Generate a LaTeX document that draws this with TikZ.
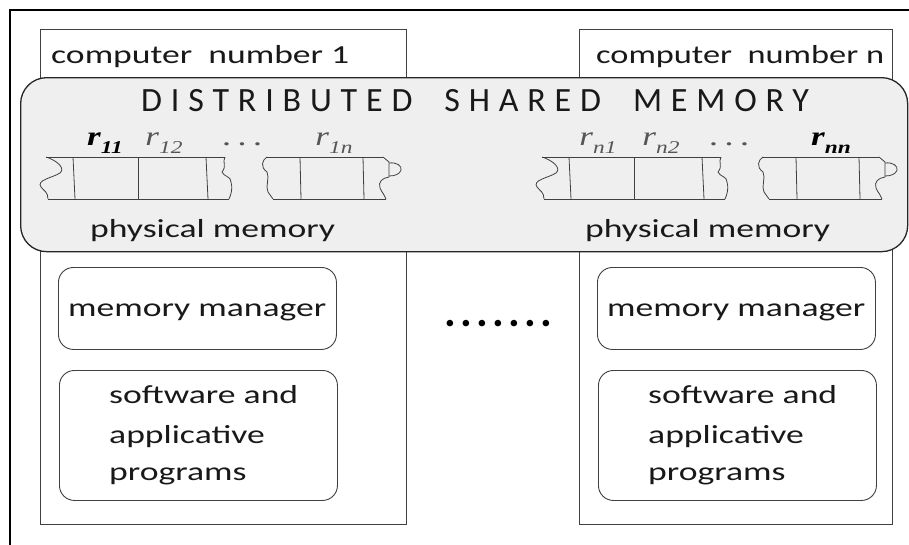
\documentclass[tikz,border=0pt]{standalone}
\usepackage{fontspec}
\setmainfont{Carlito}
\newfontfamily\serifr{Liberation Serif}
\definecolor{dsmfill}{HTML}{EFEFEF}
\definecolor{lbl}{HTML}{555555}
\definecolor{edge}{HTML}{404040}
\newcommand\wide[1]{\scalebox{1.37}[1]{#1}}
\newcommand\regl[1]{\scalebox{1.3}[1]{r\raisebox{-0.3em}{\fontsize{18}{18}\selectfont #1}}}
\newcommand\memstrips{%
  % strip a
  \draw[strip] (46,157) -- (225,157);
  \draw[strip] (48,199) -- (229,199);
  \draw[strip] (46,157) .. controls (56,160) and (66,168) .. (60,173) .. controls (52,178) and (36,180) .. (41,187) .. controls (44,191) and (48,192) .. (48,199);
  \draw[strip] (225,157) .. controls (222,162) and (227,166) .. (222,172) .. controls (224,177) and (231,176) .. (231,182) .. controls (233,188) and (231,195) .. (229,199);
  \draw[strip] (73,157) -- (75,199);
  \draw[strip] (138,157) -- (138,199);
  \draw[strip] (206,157) -- (208,199);
  % strip b
  \draw[strip] (267,157) -- (383,157);
  \draw[strip] (273,199) -- (386,199);
  \draw[strip] (267,157) .. controls (262,160) and (260,167) .. (267,172) .. controls (270,178) and (265,186) .. (268,192) -- (273,199);
  \draw[strip] (300,157) -- (301,199);
  \draw[strip] (363,157) -- (364,199);
  \draw[strip] (383,157) -- (389,162) -- (389,177);
  \draw[strip] (389,163) .. controls (397,162) and (402,166) .. (401,170) .. controls (400,174) and (395,176) .. (389,176);
  \draw[strip] (389,177) .. controls (382,178) and (378,182) .. (380,188) .. controls (382,193) and (385,195) .. (386,199);
}
\tikzset{
  comp/.style={draw=edge, line width=0.9pt, fill=white, inner sep=0pt, anchor=north west},
  dsmbox/.style={draw=black!85, line width=1.3pt, fill=dsmfill, rounded corners=26pt, inner sep=0pt, anchor=north west},
  inbox/.style={draw=edge, line width=0.9pt, rounded corners=15pt, inner sep=0pt, anchor=north west},
  txt/.style={inner sep=0pt, anchor=base west, text=black!90, font=\fontsize{26}{30}\selectfont},
  reg/.style={inner sep=0pt, anchor=base, font=\serifr\itshape\fontsize{27}{30}\selectfont, text=lbl},
  regb/.style={reg, text=black, font=\serifr\itshape\bfseries\fontsize{27}{30}\selectfont},
  strip/.style={draw=edge, line width=0.8pt},
}
\begin{document}
\begin{tikzpicture}[x=1pt,y=-1pt]
\clip (0,0) rectangle (909,544);
\fill[white] (0,0) rectangle (909,544);
\draw[line width=2pt] (10,560) -- (10,10) -- (920,10);
% computers
\node[comp, minimum width=366pt, minimum height=495pt] (c1) at (40,29) {};
\node[comp, minimum width=313pt, minimum height=495pt] (cn) at (579,29) {};
\node[txt] (h1) at (51,63) {\wide{computer\ \ number 1}};
\node[txt] (hn) at (596,63) {\scalebox{1.32}[1]{computer\ \ number n}};
% shared memory
\node[dsmbox, minimum width=887pt, minimum height=174pt] (dsm) at (20,77) {};
\node[inner sep=0pt, anchor=base west, text=black!90, font=\fontsize{34}{38}\selectfont\addfontfeature{LetterSpace=26}] (title) at (141,111.5) {DISTRIBUTED\hspace{32pt}SHARED\hspace{32pt}MEMORY};
\memstrips
\begin{scope}[xshift=496pt]
\memstrips
\end{scope}
\node[regb] (r11) at (105,145) {\regl{11}};
\node[reg] (r12) at (164,145) {\regl{12}};
\node[reg] (d1) at (243,145) {\wide{.\,.\,.}};
\node[reg] (r1n) at (334,145) {\regl{1n}};
\node[reg] (rn1) at (598,145) {\regl{n1}};
\node[reg] (rn2) at (661,145) {\regl{n2}};
\node[reg] (dn) at (730,145) {\wide{.\,.\,.}};
\node[regb] (rnn) at (831,145) {\regl{nn}};
\node[txt] (pm1) at (90,237) {\wide{physical memory}};
\node[txt] (pmn) at (585,237) {\wide{physical memory}};
% memory managers
\node[inbox, minimum width=278pt, minimum height=82pt] (mm1) at (58,267) {};
\node[inbox, minimum width=278pt, minimum height=82pt] (mmn) at (597,267) {};
\node[txt] (mm1t) at (68,316) {\wide{memory manager}};
\node[txt] (mmnt) at (607,316) {\wide{memory manager}};
% software
\node[inbox, minimum width=278pt, minimum height=130pt] (sw1) at (59,370) {};
\node[inbox, minimum width=278pt, minimum height=130pt] (swn) at (598,370) {};
\node[txt] (sw1a) at (109,403) {\wide{software and}};
\node[txt] (sw1b) at (109,443) {\wide{applicative}};
\node[txt] (sw1c) at (109,480) {\wide{programs}};
\node[txt] (swna) at (648,403) {\wide{software and}};
\node[txt] (swnb) at (648,443) {\wide{applicative}};
\node[txt] (swnc) at (648,480) {\wide{programs}};
% dots between computers
\node[inner sep=0pt, anchor=base west, font=\fontsize{44}{48}\selectfont\bfseries] (gap) at (444,326) {.\hspace{4.3pt}.\hspace{4.3pt}.\hspace{4.3pt}.\hspace{4.3pt}.\hspace{4.3pt}.\hspace{4.3pt}.};
\end{tikzpicture}
\end{document}
